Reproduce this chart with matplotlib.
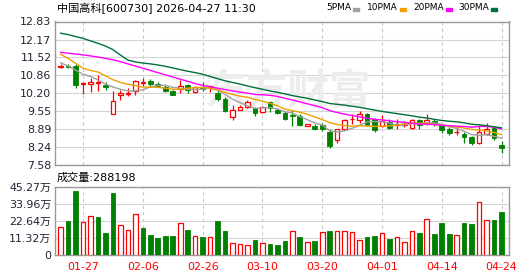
import matplotlib
matplotlib.use('Agg')
import matplotlib.pyplot as plt
from matplotlib.patches import Rectangle

plt.rcParams['font.family'] = ['DejaVu Sans', 'Noto Sans CJK SC']

# 标题与数据
title = '中国高科[600730] 2026-04-27 11:30'

opens = [11.16, 11.22, 11.20, 10.54, 10.53, 10.58, 10.50, 9.44, 10.13, 10.19,
         10.30, 10.58, 10.64, 10.55, 10.42, 10.30, 10.35, 10.49, 10.25, 10.41,
         10.44, 10.22, 10.01, 9.32, 9.61, 9.71, 9.65, 9.53, 9.87, 9.59,
         9.49, 9.41, 9.37, 9.01, 9.01, 9.04, 8.79, 8.51, 8.90, 9.26,
         9.22, 9.44, 9.25, 9.00, 9.15, 9.05, 9.06, 8.92, 9.22, 9.12,
         9.18, 9.01, 8.91, 8.78, 8.73, 8.61, 8.37, 8.70, 8.95, 8.30]
closes = [11.22, 11.18, 10.50, 10.57, 10.61, 10.60, 10.43, 9.92, 10.21, 10.22,
          10.64, 10.60, 10.53, 10.48, 10.30, 10.15, 10.47, 10.34, 10.42, 10.36,
          10.46, 10.00, 9.56, 9.58, 9.70, 9.87, 9.47, 9.71, 9.68, 9.47,
          9.27, 9.39, 9.05, 9.07, 8.88, 8.90, 8.28, 8.88, 9.22, 9.28,
          9.46, 9.06, 8.86, 9.19, 8.93, 9.08, 9.09, 9.22, 9.04, 9.22,
          9.10, 8.85, 8.74, 8.80, 8.61, 8.37, 8.77, 8.91, 8.55, 8.22]
highs = [11.27, 11.26, 11.27, 10.60, 10.77, 10.89, 10.60, 10.29, 10.32, 10.40,
         10.69, 10.78, 10.73, 10.60, 10.50, 10.32, 10.70, 10.53, 10.48, 10.60,
         10.47, 10.34, 10.06, 9.76, 9.76, 9.95, 9.71, 9.75, 9.92, 9.65,
         9.56, 9.59, 9.43, 9.09, 9.07, 9.10, 8.88, 8.91, 9.28, 9.46,
         9.55, 9.50, 9.30, 9.40, 9.27, 9.25, 9.20, 9.26, 9.26, 9.46,
         9.25, 9.07, 8.97, 8.97, 8.79, 8.64, 9.04, 9.13, 8.97, 8.45]
lows = [11.14, 11.12, 10.40, 10.16, 10.26, 10.28, 10.32, 9.44, 9.96, 10.10,
        10.14, 10.47, 10.42, 10.44, 10.26, 10.13, 10.22, 10.23, 10.23, 10.28,
        10.26, 9.93, 9.53, 9.24, 9.58, 9.68, 9.37, 9.50, 9.53, 9.44,
        9.23, 9.00, 8.99, 8.99, 8.86, 8.83, 8.22, 8.39, 8.85, 9.07,
        9.13, 9.00, 8.80, 8.97, 8.90, 8.90, 8.97, 8.90, 8.88, 9.04,
        9.00, 8.76, 8.69, 8.67, 8.40, 8.30, 8.33, 8.67, 8.50, 8.03]
prev_close = 11.10

# 成交量(万)
volumes = [18.8, 22.5, 42.4, 21.9, 25.6, 25.2, 14.6, 41.1, 19.7, 16.6,
           26.9, 17.9, 13.2, 11.3, 12.6, 12.6, 21.0, 16.6, 12.6, 11.9,
           11.7, 22.5, 15.9, 7.7, 7.3, 6.6, 10.2, 7.7, 7.3, 6.6,
           9.3, 15.7, 11.9, 8.6, 9.3, 15.2, 15.9, 15.9, 15.9, 15.0,
           9.9, 11.9, 12.6, 14.4, 10.6, 11.7, 8.6, 15.7, 14.6, 23.6,
           13.9, 21.2, 13.9, 13.0, 21.2, 20.5, 34.9, 23.2, 23.2, 28.82]
last_volume = 288198

ma5 = [11.32, 11.20, 11.05, 10.90, 10.82, 10.69, 10.54, 10.43, 10.35, 10.29,
       10.29, 10.33, 10.44, 10.49, 10.50, 10.42, 10.39, 10.35, 10.34, 10.35,
       10.40, 10.32, 10.16, 9.99, 9.86, 9.75, 9.65, 9.67, 9.68, 9.63,
       9.53, 9.48, 9.35, 9.24, 9.12, 9.04, 8.83, 8.79, 8.83, 8.92,
       9.03, 9.16, 9.17, 9.16, 9.11, 9.04, 9.04, 9.10, 9.08, 9.12,
       9.12, 9.07, 8.98, 8.92, 8.81, 8.69, 8.67, 8.69, 8.63, 8.56]
ma10 = [11.63, 11.48, 11.30, 11.12, 11.04, 10.98, 10.84, 10.70, 10.60, 10.53,
        10.49, 10.43, 10.43, 10.42, 10.39, 10.35, 10.35, 10.39, 10.41, 10.42,
        10.39, 10.33, 10.24, 10.16, 10.10, 10.06, 9.98, 9.92, 9.84, 9.75,
        9.63, 9.57, 9.51, 9.44, 9.34, 9.24, 9.13, 9.06, 9.02, 9.00,
        9.02, 9.01, 8.99, 9.00, 9.01, 9.03, 9.09, 9.12, 9.11, 9.11,
        9.07, 9.04, 9.01, 8.97, 8.93, 8.88, 8.86, 8.83, 8.77, 8.69]
ma20 = [11.70, 11.67, 11.64, 11.61, 11.57, 11.53, 11.48, 11.43, 11.36, 11.28,
        11.20, 11.12, 11.04, 10.96, 10.88, 10.80, 10.72, 10.64, 10.56, 10.49,
        10.45, 10.39, 10.34, 10.29, 10.25, 10.21, 10.16, 10.15, 10.13, 10.09,
        10.02, 9.96, 9.89, 9.82, 9.75, 9.68, 9.57, 9.50, 9.44, 9.39,
        9.34, 9.29, 9.25, 9.23, 9.20, 9.16, 9.14, 9.11, 9.08, 9.07,
        9.06, 9.03, 9.02, 9.00, 8.99, 8.96, 8.99, 8.99, 8.96, 8.90]
ma30 = [12.40, 12.35, 12.28, 12.21, 12.12, 12.03, 11.93, 11.80, 11.60, 11.42,
        11.35, 11.31, 11.28, 11.24, 11.19, 11.13, 11.07, 11.01, 10.96, 10.90,
        10.82, 10.74, 10.66, 10.60, 10.54, 10.47, 10.41, 10.35, 10.29, 10.24,
        10.18, 10.12, 10.07, 10.02, 9.96, 9.90, 9.83, 9.80, 9.77, 9.73,
        9.69, 9.64, 9.59, 9.54, 9.50, 9.46, 9.42, 9.38, 9.33, 9.30,
        9.25, 9.21, 9.18, 9.16, 9.12, 9.07, 9.05, 9.02, 8.98, 8.94]

ma_names = ['5PMA', '10PMA', '20PMA', '30PMA']
ma_colors = ['#a0a0a0', '#f0a000', '#ff00ff', '#00703a']

date_labels = ['01-27', '02-06', '02-26', '03-10', '03-20', '04-01', '04-14', '04-24']
date_pos = [3, 11, 19, 27, 35, 43, 51, 59]
price_ticks = [7.58, 8.24, 8.89, 9.55, 10.20, 10.86, 11.52, 12.17, 12.83]
vol_ticks = [0, 11.32, 22.64, 33.96, 45.27]

RED = '#ff0000'
GREEN = '#008000'
W = 530
H = 276

fig = plt.figure(figsize=(W / 100, H / 100), dpi=100)
ax = fig.add_axes([55 / W, 1 - 165 / H, 454 / W, 143.5 / H])
axv = fig.add_axes([55 / W, 1 - 255 / H, 454 / W, 68.3 / H])

x = list(range(len(closes)))

# K线
for i in x:
    o, c, hi, lo = opens[i], closes[i], highs[i], lows[i]
    if c >= o:
        ax.vlines(i, lo, o, color=RED, lw=0.9, zorder=3)
        ax.vlines(i, c, hi, color=RED, lw=0.9, zorder=3)
        ax.bar(i, max(c - o, 0.01), bottom=o, width=0.62, facecolor='white',
               edgecolor=RED, linewidth=0.9, zorder=4)
    else:
        ax.vlines(i, lo, hi, color=GREEN, lw=0.9, zorder=3)
        ax.bar(i, o - c, bottom=c, width=0.62, facecolor=GREEN,
               edgecolor=GREEN, linewidth=0.6, zorder=4)

# 均线
for vals, col in zip([ma5, ma10, ma20, ma30], ma_colors):
    ax.plot(x, vals, color=col, lw=1.0, zorder=5)

# 成交量
for i in x:
    ref = closes[i - 1] if i > 0 else prev_close
    if closes[i] >= ref:
        axv.bar(i, volumes[i], width=0.62, facecolor='white', edgecolor=RED,
                linewidth=0.9, zorder=3)
    else:
        axv.bar(i, volumes[i], width=0.62, facecolor=GREEN, edgecolor=GREEN,
                linewidth=0.6, zorder=3)

for a in (ax, axv):
    a.set_xlim(-0.76, 60.0)
    a.set_axisbelow(True)
    a.set_xticks(date_pos)
    a.xaxis.grid(True, color='#c8c8c8', lw=0.8, ls=(0, (3, 3)))
    a.yaxis.grid(True, color='#d4d4d4', lw=0.8)
    a.tick_params(length=0, labelsize=7.9, labelcolor='#222233', pad=2.5)
    for s in a.spines.values():
        s.set_color('#999999')
        s.set_linewidth(1.0)

ax.set_ylim(price_ticks[0], price_ticks[-1])
ax.set_yticks(price_ticks)
ax.set_yticklabels(['%.2f' % v for v in price_ticks])
ax.set_xticklabels([])

axv.set_ylim(0, vol_ticks[-1])
axv.set_yticks(vol_ticks)
axv.set_yticklabels(['0' if v == 0 else '%.2f万' % v for v in vol_ticks])
axv.set_xticklabels(date_labels, color=RED)
axv.tick_params(axis='x', pad=5)

# 水印
ax.text(0.513, 0.51, '东方财富', transform=ax.transAxes, fontsize=30,
        color='#ededed', ha='center', va='center', weight='bold',
        family='Noto Sans CJK SC', zorder=1)

# 标题与图例
fig.text(57 / W, 1 - 8 / H, title, fontsize=8, ha='left', va='center', color='black')
leg_x = [326, 367, 413, 458]
for name, col, lx in zip(ma_names, ma_colors, leg_x):
    fig.text(lx / W, 1 - 8 / H, name, fontsize=6.5, ha='left', va='center', color='black')
    fig.patches.append(Rectangle(((lx + 6.2 * len(name) + 2) / W, 1 - 10.5 / H), 6 / W, 2.5 / H,
                                 transform=fig.transFigure, color=col))

fig.text(57 / W, 1 - 177.5 / H, '成交量:%d' % last_volume, fontsize=8,
         ha='left', va='center', color='black')

fig.savefig('out.png', dpi=100)
